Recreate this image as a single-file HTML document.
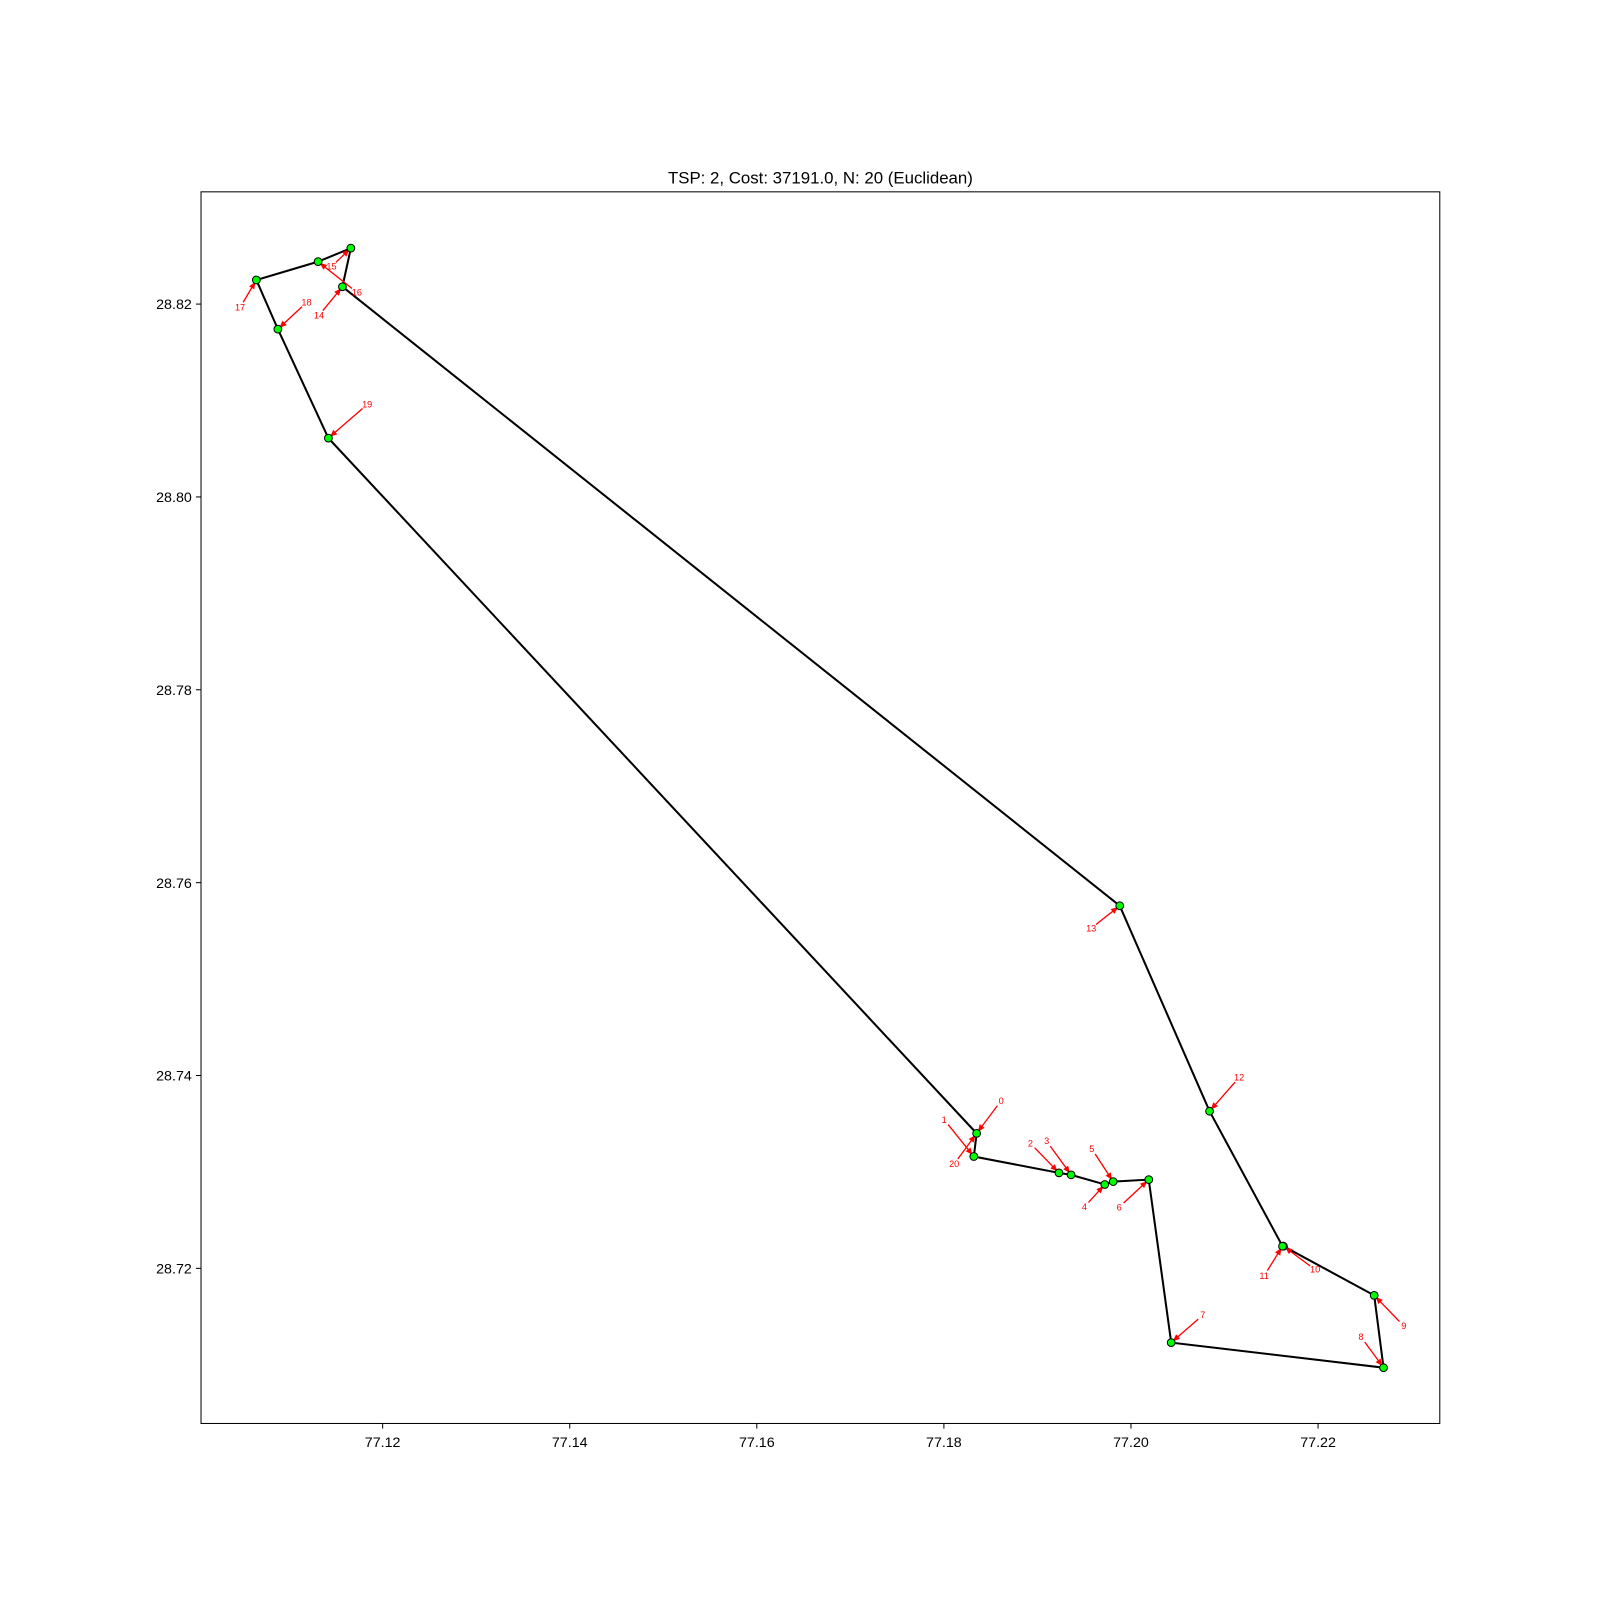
<!DOCTYPE html>
<html><head><meta charset="utf-8"><style>
body{margin:0;background:#fff}
svg{display:block;font-family:"Liberation Sans","DejaVu Sans",sans-serif}
</style></head><body>
<svg id="chart" width="1600" height="1600" viewBox="0 0 1568 1568">
<rect width="1568" height="1568" fill="#fff"/>
<text x="804" y="180" font-size="16.5" text-anchor="middle">TSP: 2, Cost: 37191.0, N: 20 (Euclidean)</text>
<g id="grid"></g>
<g id="route"></g>
<g id="ann"></g>
<g id="pts"></g>
<rect x="197" y="188" width="1214" height="1207" fill="none" stroke="#000" stroke-width="1"/>
</svg>
<script>
const xs=[77.1835,77.1832,77.1923,77.1936,77.1972,77.1981,77.2019,77.2043,77.2270,77.2260,77.2163,77.2162,77.2084,77.1988,77.1157,77.1166,77.1131,77.1065,77.1088,77.1142];
const ys=[28.7340,28.7316,28.7299,28.7297,28.7287,28.7290,28.7292,28.7123,28.7097,28.7172,28.7223,28.7223,28.7363,28.7576,28.8218,28.8258,28.8244,28.8225,28.8174,28.8061];
const xTicks=[77.12,77.14,77.16,77.18,77.20,77.22];
const yTicks=[28.72,28.74,28.76,28.78,28.80,28.82];
const labels=["0","1","2","3","4","5","6","7","8","9","10","11","12","13","14","15","16","17","18","19","20"];
const offs=[[24,-32],[-29,-36],[-28,-29],[-24,-33],[-20,22],[-21,-32],[-29,27],[31,-27],[-22,-30],[29,30],[31,23],[-18,29],[29,-33],[-28,22],[-23,28],[-19,18],[38,30],[-16,27],[28,-26],[38,-33],[-22,30]];
const X=v=>375+(v-77.12)*9167;
const Y=v=>298-(v-28.82)*9450;
const NS="http://www.w3.org/2000/svg";
function mk(t,a,p){const e=document.createElementNS(NS,t);for(const k in a)e.setAttribute(k,a[k]);p.appendChild(e);return e;}
const g=document.getElementById('grid');
xTicks.forEach(t=>{const x=X(t);
const l=mk('line',{x1:x,x2:x,y1:1395,y2:1400,stroke:'#000'},g);


const tx=mk('text',{x:x,y:1418,'font-size':14,'text-anchor':'middle'},g);tx.textContent=t.toFixed(2);

});
yTicks.forEach(t=>{const y=Y(t);
const l=mk('line',{x1:192,x2:197,y1:y,y2:y,stroke:'#000'},g);


const tx=mk('text',{x:188,y:y+5,'font-size':14,'text-anchor':'end'},g);tx.textContent=t.toFixed(2);

});
const r=document.getElementById('route');
let d='';for(let i=0;i<=xs.length;i++){const k=i%xs.length;d+=(i?'L':'M')+X(xs[k])+','+Y(ys[k]);}
const p=mk('path',{d:d,fill:'none',stroke:'#000','stroke-width':2},r);


const a=document.getElementById('ann');
labels.forEach((lb,i)=>{const k=i%xs.length;const px=X(xs[k]),py=Y(ys[k]);const tx=px+offs[i][0],ty=py+offs[i][1];
const dx=px-tx,dy=py-ty,L=Math.hypot(dx,dy),ux=dx/L,uy=dy/L;
const sx=tx+ux*6,sy=ty+uy*6,ex=px-ux*2,ey=py-uy*2;
const ln=mk('line',{x1:sx,y1:sy,x2:ex,y2:ey,stroke:'#f00','stroke-width':1.3},a);


const hx=ex-ux*7,hy=ey-uy*7;
const hd=mk('polygon',{points:`${ex},${ey} ${hx-uy*3},${hy+ux*3} ${hx+uy*3},${hy-ux*3}`,fill:'#f00'},a);


const t=mk('text',{x:tx,y:ty+3,'font-size':9,fill:'#f00','text-anchor':'middle'},a);t.textContent=lb;

});
const pg=document.getElementById('pts');
xs.forEach((v,i)=>{const c=mk('circle',{cx:X(v),cy:Y(ys[i]),r:3.8,fill:'#00ff00',stroke:'#000','stroke-width':1},pg);

});
</script>
</body></html>
